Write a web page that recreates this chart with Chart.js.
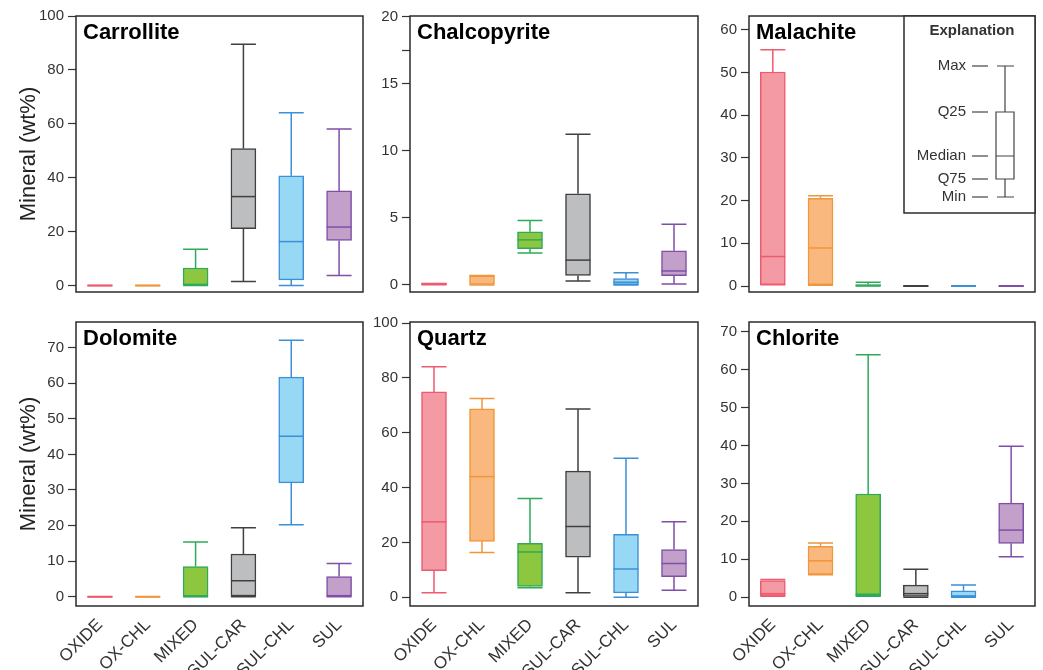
<!DOCTYPE html>
<html lang="en">
<head>
<meta charset="utf-8">
<title>Mineral (wt%) by domain</title>
<script src="https://cdn.jsdelivr.net/npm/chart.js@4.4.1/dist/chart.umd.min.js"></script>
<style>
    html, body { margin: 0; padding: 0; background: #fff; }
    body { width: 1043px; height: 670px; position: relative; overflow: hidden; }
    canvas { position: absolute; }
</style>
</head>
<body>
<canvas id="carrollite"></canvas>
<canvas id="chalcopyrite"></canvas>
<canvas id="malachite"></canvas>
<canvas id="dolomite"></canvas>
<canvas id="quartz"></canvas>
<canvas id="chlorite"></canvas>
<script>
const categorias = ['OXIDE', 'OX-CHL', 'MIXED', 'SUL-CAR', 'SUL-CHL', 'SUL'];
const coresPreenchimento = ['#f49aa4', '#f9b97e', '#8dc63f', '#bcbec0', '#97d8f5', '#c3a0ca'];
const coresContorno = ['#ee5a6e', '#f0963c', '#2eaa5a', '#404040', '#3d8fd6', '#7f4fa8'];

// cada linha: [min, q1, mediana, q3, max] na ordem das categorias
const carrollite = [
    [0, 0, 0, 0, 0],
    [0, 0, 0, 0, 0],
    [0, 0, 0.4, 6.5, 13.5],
    [1.5, 21.1, 33, 50.8, 89.5],
    [0, 2.1, 16.3, 40.7, 64.1],
    [3.7, 16.7, 21.7, 35.1, 58.1]
];
const chalcopyrite = [
    [0.02, 0.02, 0.05, 0.1, 0.1],
    [0, 0, 0.65, 0.68, 0.7],
    [2.38, 2.7, 3.36, 3.96, 4.8],
    [0.29, 0.7, 1.85, 6.8, 11.24],
    [0, 0.02, 0.2, 0.48, 0.91],
    [0.07, 0.68, 1.04, 2.55, 4.52]
];
const malachite = [
    [0.3, 0.3, 6.9, 50.1, 55.3],
    [0.2, 0.3, 8.9, 20.5, 21.1],
    [0, 0, 0.15, 0.35, 0.9],
    [0, 0, 0, 0, 0],
    [0, 0, 0, 0, 0],
    [0, 0, 0, 0, 0]
];
const dolomite = [
    [0, 0, 0, 0, 0],
    [0, 0, 0, 0, 0],
    [0, 0, 0.1, 8.5, 15.4],
    [0, 0.2, 4.5, 12, 19.4],
    [20.2, 32, 45.1, 61.7, 72.1],
    [0, 0, 0.3, 5.7, 9.35]
];
const quartz = [
    [1.6, 9.7, 27.5, 74.9, 84.1],
    [16.3, 20.4, 44, 68.7, 72.5],
    [3.5, 3.9, 16.5, 19.7, 36],
    [1.6, 14.6, 25.8, 46, 68.7],
    [0, 1.6, 10.3, 22.9, 50.7],
    [2.5, 7.5, 12.3, 17.4, 27.5]
];
const chlorite = [
    [0.3, 0.4, 0.95, 4.4, 4.7],
    [5.9, 6, 9.6, 13.4, 14.3],
    [0.3, 0.3, 0.8, 27.2, 63.9],
    [0, 0.2, 0.95, 3.2, 7.4],
    [0, 0, 0.3, 1.7, 3.2],
    [10.7, 14.2, 17.7, 24.8, 39.8]
];

// limites dos eixos y: [min, max, passo]
const eixoCarrollite = [-2.4, 100, 20];
const eixoChalcopyrite = [-0.53, 20.07, 5];
const eixoMalachite = [-1.4, 63.2, 10];
const eixoDolomite = [-2.6, 77.2, 10];
const eixoQuartz = [-3.2, 100.4, 20];
const eixoChlorite = [-2.3, 72.5, 10];

// marcas sem rotulo (so aparece em Chalcopyrite)
const marcasExtrasChalcopyrite = [17.5];

const legendaRotulos = ['Max', 'Q25', 'Median', 'Q75', 'Min'];

const FONTE = "'Liberation Sans', Arial, Helvetica, sans-serif";
const COR_TEXTO = '#333';

Chart.defaults.font.family = FONTE;
Chart.defaults.color = COR_TEXTO;

const pluginCaixas = {
    id: 'caixas',
    afterDatasetsDraw(chart, args, opcoes) {
        const { ctx } = chart;
        const y = chart.scales.y;
        const meta = chart.getDatasetMeta(0);
        meta.data.forEach((barra, indice) => {
            const [min, q1, mediana, q3, max] = opcoes.dados[indice];
            const x = barra.x;
            const meia = barra.width / 2;
            ctx.save();
            ctx.strokeStyle = coresContorno[indice];
            ctx.lineWidth = 1.5;
            ctx.beginPath();
            ctx.moveTo(x, y.getPixelForValue(q3));
            ctx.lineTo(x, y.getPixelForValue(max));
            ctx.moveTo(x - meia, y.getPixelForValue(max));
            ctx.lineTo(x + meia, y.getPixelForValue(max));
            ctx.moveTo(x, y.getPixelForValue(q1));
            ctx.lineTo(x, y.getPixelForValue(min));
            ctx.moveTo(x - meia, y.getPixelForValue(min));
            ctx.lineTo(x + meia, y.getPixelForValue(min));
            ctx.stroke();
            ctx.beginPath();
            ctx.lineWidth = max === 0 ? 2 : 1.5;
            ctx.moveTo(x - meia, y.getPixelForValue(mediana));
            ctx.lineTo(x + meia, y.getPixelForValue(mediana));
            ctx.stroke();
            ctx.restore();
        });
    }
};

const pluginMoldura = {
    id: 'moldura',
    afterDraw(chart, args, opcoes) {
        const { ctx, chartArea: area } = chart;
        ctx.save();
        ctx.strokeStyle = '#2b2b2b';
        ctx.lineWidth = 1.5;
        ctx.strokeRect(area.left, area.top, area.right - area.left, area.bottom - area.top);
        ctx.fillStyle = '#000';
        ctx.font = `bold 22px ${FONTE}`;
        ctx.textBaseline = 'alphabetic';
        ctx.fillText(opcoes.titulo, area.left + 7, area.top + 23);
        if (opcoes.explicacao) desenharExplicacao(ctx, area);
        ctx.restore();
    }
};

function desenharExplicacao(ctx, area) {
    const esquerda = area.left + 155;
    const base = area.top + 197;
    ctx.strokeStyle = '#2b2b2b';
    ctx.lineWidth = 1.5;
    ctx.fillStyle = '#fff';
    ctx.fillRect(esquerda, area.top, area.right - esquerda, base - area.top);
    ctx.strokeRect(esquerda, area.top, area.right - esquerda, base - area.top);

    ctx.fillStyle = COR_TEXTO;
    ctx.font = `bold 15px ${FONTE}`;
    ctx.textAlign = 'center';
    ctx.textBaseline = 'middle';
    ctx.fillText('Explanation', esquerda + 68, area.top + 15);

    // posicoes verticais do glifo, em pixels a partir do topo do quadro
    const alturas = [50, 96, 140, 163, 181];
    const xCaixa = esquerda + 101;
    ctx.font = `15px ${FONTE}`;
    ctx.textAlign = 'right';
    ctx.strokeStyle = '#444';
    ctx.lineWidth = 1.2;
    legendaRotulos.forEach((rotulo, i) => {
        const yy = area.top + alturas[i];
        ctx.fillText(rotulo, esquerda + 62, yy);
        ctx.beginPath();
        ctx.moveTo(esquerda + 68, yy);
        ctx.lineTo(esquerda + 84, yy);
        ctx.stroke();
    });
    const [yMax, yQ25, yMed, yQ75, yMin] = alturas.map(a => area.top + a);
    ctx.beginPath();
    ctx.moveTo(xCaixa - 8, yMax); ctx.lineTo(xCaixa + 9, yMax);
    ctx.moveTo(xCaixa, yMax); ctx.lineTo(xCaixa, yQ25);
    ctx.rect(xCaixa - 9, yQ25, 18, yQ75 - yQ25);
    ctx.moveTo(xCaixa - 9, yMed); ctx.lineTo(xCaixa + 9, yMed);
    ctx.moveTo(xCaixa, yQ75); ctx.lineTo(xCaixa, yMin);
    ctx.moveTo(xCaixa - 8, yMin); ctx.lineTo(xCaixa + 9, yMin);
    ctx.stroke();
}

function criarPainel(id, titulo, dados, eixo, posicao, marcasExtras = []) {
    const { esquerda, topo, largura, altura, larguraEixoY, mostrarX, mostrarTituloY, explicacao } = posicao;
    const canvas = document.getElementById(id);
    canvas.width = largura;
    canvas.height = altura;
    canvas.style.left = `${esquerda}px`;
    canvas.style.top = `${topo}px`;
    canvas.style.width = `${largura}px`;
    canvas.style.height = `${altura}px`;

    const [yMin, yMax, passo] = eixo;

    return new Chart(canvas, {
        type: 'bar',
        data: {
            labels: categorias,
            datasets: [{
                data: dados.map(caixa => [caixa[1], caixa[3]]),
                backgroundColor: coresPreenchimento,
                borderColor: coresContorno,
                borderWidth: 1.5,
                borderSkipped: false,
                barThickness: 25
            }]
        },
        options: {
            responsive: false,
            animation: false,
            devicePixelRatio: 1,
            layout: { padding: { top: 12, right: 4, bottom: mostrarX ? 0 : 4, left: 0 } },
            plugins: {
                legend: { display: false },
                tooltip: { enabled: false },
                caixas: { dados },
                moldura: { titulo, explicacao }
            },
            scales: {
                x: {
                    grid: { display: false },
                    border: { display: false },
                    ticks: {
                        display: mostrarX,
                        autoSkip: false,
                        minRotation: 45,
                        maxRotation: 45,
                        padding: 1,
                        color: COR_TEXTO,
                        font: { size: 17 }
                    },
                    afterFit: escala => { escala.height = mostrarX ? 64 : 0; }
                },
                y: {
                    min: yMin,
                    max: yMax,
                    border: { display: false },
                    grid: {
                        display: true,
                        drawOnChartArea: false,
                        drawTicks: true,
                        tickLength: 8,
                        tickColor: '#333',
                        tickWidth: 1.2
                    },
                    ticks: {
                        stepSize: passo,
                        includeBounds: false,
                        padding: 4,
                        color: COR_TEXTO,
                        font: { size: 15 },
                        callback: valor => marcasExtras.includes(valor) ? '' : valor
                    },
                    afterBuildTicks: escala => {
                        marcasExtras.forEach(valor => escala.ticks.push({ value: valor }));
                        escala.ticks.sort((a, b) => a.value - b.value);
                    },
                    title: {
                        display: mostrarTituloY,
                        text: 'Mineral (wt%)',
                        color: '#222',
                        font: { size: 22 },
                        padding: { top: 16, bottom: 4 }
                    },
                    afterFit: escala => { escala.width = larguraEixoY; }
                }
            }
        },
        plugins: [pluginCaixas, pluginMoldura]
    });
}

const colunas = [
    { esquerda: 0, largura: 367, larguraEixoY: 76, mostrarTituloY: true },
    { esquerda: 350, largura: 352, larguraEixoY: 60, mostrarTituloY: false },
    { esquerda: 689, largura: 350, larguraEixoY: 60, mostrarTituloY: false }
];
const linhas = [
    { topo: 3, altura: 302, mostrarX: false },
    { topo: 309, altura: 361, mostrarX: true }
];

criarPainel('carrollite', 'Carrollite', carrollite, eixoCarrollite, { ...colunas[0], ...linhas[0] });
criarPainel('chalcopyrite', 'Chalcopyrite', chalcopyrite, eixoChalcopyrite, { ...colunas[1], ...linhas[0] }, marcasExtrasChalcopyrite);
criarPainel('malachite', 'Malachite', malachite, eixoMalachite, { ...colunas[2], ...linhas[0], explicacao: true });
criarPainel('dolomite', 'Dolomite', dolomite, eixoDolomite, { ...colunas[0], ...linhas[1] });
criarPainel('quartz', 'Quartz', quartz, eixoQuartz, { ...colunas[1], ...linhas[1] });
criarPainel('chlorite', 'Chlorite', chlorite, eixoChlorite, { ...colunas[2], ...linhas[1] });
</script>
</body>
</html>
